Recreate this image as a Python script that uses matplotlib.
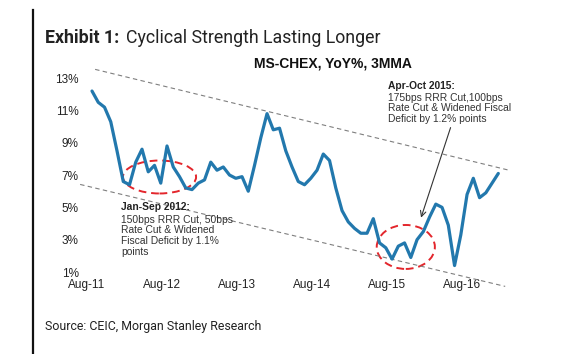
import matplotlib
matplotlib.use("Agg")
import matplotlib.pyplot as plt
from matplotlib.patches import Ellipse

# MS-CHEX YoY%, 3MMA, monthly from Aug-11
months = list(range(66))
chex = [12.2, 11.5, 11.2, 10.3, 8.5, 6.6, 6.4, 7.8, 8.6, 7.2,
        7.6, 6.5, 8.8, 7.5, 6.9, 6.2, 6.1, 6.5, 6.7, 7.8,
        7.3, 7.5, 7.0, 6.8, 6.9, 6.0, 7.6, 9.3, 10.8, 9.8,
        9.9, 8.5, 7.5, 6.6, 6.4, 6.8, 7.3, 8.3, 7.9, 6.2,
        4.8, 4.1, 3.7, 3.4, 3.4, 4.3, 2.8, 2.5, 1.8, 2.6,
        2.8, 1.9, 3.0, 3.5, 4.4, 5.2, 5.0, 3.9, 1.4, 3.3,
        5.8, 6.8, 5.6, 5.9, 6.5, 7.1]

tick_pos = [-0.8, 11.2, 23.2, 35.2, 47.2, 59.2]
tick_labels = ["Aug-11", "Aug-12", "Aug-13", "Aug-14", "Aug-15", "Aug-16"]
y_ticks = [1, 3, 5, 7, 9, 11, 13]

# trend channel (start month, value) -> (end month, value)
upper_x = [0.5, 66.6]
upper_y = [13.54, 7.31]
lower_x = [-1.9, 66.1]
lower_y = [6.42, 0.11]

BLUE = "#2278ad"
RED = "#e3262c"
ARIAL = "Liberation Sans"

fig = plt.figure(figsize=(5.66, 3.54), dpi=100)
ax = fig.add_axes([0.1515, 0.2316, 0.751, 0.5706])

ax.plot(upper_x, upper_y, color="#7f7f7f", lw=0.8, ls=(0, (4, 3)), clip_on=False)
ax.plot(lower_x, lower_y, color="#7f7f7f", lw=0.8, ls=(0, (4, 3)), clip_on=False)
ax.plot(months, chex, color=BLUE, lw=2.3, solid_joinstyle="round", solid_capstyle="round")

ax.add_patch(Ellipse((10.8, 6.88), 11.7, 2.04, fill=False, ec=RED, lw=1.4, ls=(0, (4, 2.5))))
ax.add_patch(Ellipse((50.2, 2.55), 9.3, 2.72, fill=False, ec=RED, lw=1.4, ls=(0, (4, 2.5))))

ax.set_xlim(-1, 67)
ax.set_ylim(1, 13.5)
ax.set_xticks(tick_pos)
ax.set_xticklabels(tick_labels, family=ARIAL, fontsize=8.5, color="#222222")
ax.set_yticks(y_ticks)
ax.set_yticklabels([f"{v}%" for v in y_ticks], family=ARIAL, fontsize=8.5, color="#222222")
ax.tick_params(length=0)
ax.tick_params(axis="x", pad=5)
ax.tick_params(axis="y", pad=5)
for s in ax.spines.values():
    s.set_visible(False)

# annotations
ax.text(4.7, 5.0, "Jan-Sep 2012:", family=ARIAL, fontsize=7.4, fontweight="bold",
        color="#222222", va="center")
ax.text(4.7, 4.55, "150bps RRR Cut, 50bps\nRate Cut & Widened\nFiscal Deficit by 1.1%\npoints",
        family=ARIAL, fontsize=7.4, color="#333333", va="top", linespacing=1.1)
ax.text(47.4, 12.5, "Apr-Oct 2015:", family=ARIAL, fontsize=7.4, fontweight="bold",
        color="#222222", va="center")
ax.text(47.4, 12.1, "175bps RRR Cut,100bps\nRate Cut & Widened Fiscal\nDeficit by 1.2% points",
        family=ARIAL, fontsize=7.4, color="#333333", va="top", linespacing=1.1)
ax.annotate("", xy=(52.5, 4.2), xytext=(57.5, 10.1),
            arrowprops=dict(arrowstyle="->", color="#333333", lw=0.8))

ax.text(0.582, 1.0, "MS-CHEX, YoY%, 3MMA", transform=ax.transAxes, family=ARIAL,
        fontsize=10, fontweight="bold", color="#111111", ha="center", va="bottom")

# title, source, left rule
t1 = fig.text(45 / 566, 1 - 43 / 354, "Exhibit 1:", family="Roboto", fontsize=12.8,
              fontweight="bold", color="#222222", va="baseline")
fig.canvas.draw()
bb = t1.get_window_extent()
fig.text((bb.x1 + 7) / 566, 1 - 43 / 354, "Cyclical Strength Lasting Longer", family="Roboto",
         fontsize=12.8, color="#222222", va="baseline")
fig.text(45 / 566, 1 - 330 / 354, "Source: CEIC, Morgan Stanley Research", family="Roboto",
         fontsize=8.9, color="#222222", va="baseline")
fig.add_artist(plt.Line2D([32.5 / 566, 32.5 / 566], [0, 1 - 10 / 354], color="#111111", lw=1.6))

fig.savefig("out.png", dpi=100, facecolor="white")
